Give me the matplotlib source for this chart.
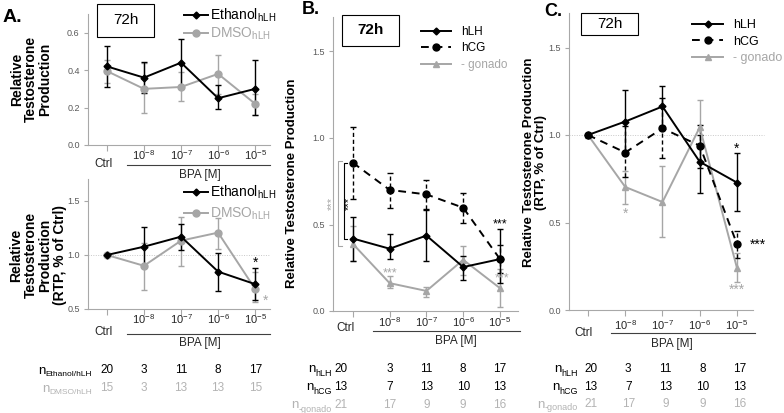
import matplotlib
matplotlib.use('Agg')
import matplotlib.pyplot as plt
from matplotlib.patches import Rectangle
from matplotlib.lines import Line2D
from matplotlib.transforms import blended_transform_factory
import numpy as np

plt.rcParams['font.family'] = ['Liberation Sans', 'DejaVu Sans']
plt.rcParams['mathtext.fontset'] = 'custom'
plt.rcParams['mathtext.rm'] = 'Liberation Sans'
plt.rcParams['mathtext.it'] = 'Liberation Sans:italic'
plt.rcParams['mathtext.bf'] = 'Liberation Sans:bold'

BLACK = '#000000'
GRAY = '#a6a6a6'
AXGRAY = '#a8a8a8'
LABGRAY = '#595959'
LGRAY = '#b3b3b3'

# ---- data ----
x = np.arange(5)
conc_labels = ['10$^{-8}$', '10$^{-7}$', '10$^{-6}$', '10$^{-5}$']

# A, top: raw RTP
eth_raw = [0.42, 0.36, 0.44, 0.25, 0.30]
eth_raw_lo = [0.31, 0.28, 0.31, 0.19, 0.16]
eth_raw_hi = [0.53, 0.445, 0.565, 0.32, 0.455]
dmso_raw = [0.395, 0.30, 0.31, 0.38, 0.22]
dmso_raw_lo = [0.33, 0.17, 0.235, 0.275, 0.16]
dmso_raw_hi = [0.455, 0.44, 0.39, 0.48, 0.27]

# A, bottom: % of ctrl
eth_rel = [1.0, 1.077, 1.17, 0.846, 0.73]
eth_rel_lo = [1.0, 0.90, 1.046, 0.67, 0.58]
eth_rel_hi = [1.0, 1.256, 1.284, 1.015, 0.88]
dmso_rel = [1.0, 0.90, 1.133, 1.207, 0.685]
dmso_rel_lo = [1.0, 0.68, 0.90, 1.06, 0.568]
dmso_rel_hi = [1.0, 1.108, 1.355, 1.34, 0.845]

# B: raw
hlh_raw = [0.419, 0.36, 0.436, 0.254, 0.30]
hlh_raw_lo = [0.29, 0.30, 0.29, 0.18, 0.16]
hlh_raw_hi = [0.545, 0.444, 0.583, 0.32, 0.475]
hcg_raw = [0.857, 0.70, 0.674, 0.597, 0.30]
hcg_raw_lo = [0.645, 0.597, 0.59, 0.51, 0.22]
hcg_raw_hi = [1.065, 0.80, 0.758, 0.684, 0.38]
gon_raw = [0.388, 0.161, 0.116, 0.296, 0.132]
gon_raw_lo = [0.288, 0.132, 0.083, 0.209, 0.025]
gon_raw_hi = [0.49, 0.20, 0.141, 0.378, 0.242]

# C: % of ctrl
hlh_rel = [1.0, 1.077, 1.163, 0.847, 0.728]
hlh_rel_lo = [1.0, 0.90, 1.05, 0.67, 0.563]
hlh_rel_hi = [1.0, 1.257, 1.28, 1.0, 0.895]
hcg_rel = [1.0, 0.90, 1.038, 0.939, 0.377]
hcg_rel_lo = [1.0, 0.76, 0.866, 0.81, 0.30]
hcg_rel_hi = [1.0, 1.05, 1.213, 1.06, 0.454]
gon_rel = [1.0, 0.703, 0.617, 1.044, 0.24]
gon_rel_lo = [1.0, 0.607, 0.42, 0.85, 0.161]
gon_rel_hi = [1.0, 0.793, 0.824, 1.2, 0.326]

n_eth = [20, 3, 11, 8, 17]
n_dmso = [15, 3, 13, 13, 15]
n_hlh = [20, 3, 11, 8, 17]
n_hcg = [13, 7, 13, 10, 13]
n_gon = [21, 17, 9, 9, 16]

W, H = 784, 413
fig = plt.figure(figsize=(W / 100, H / 100), dpi=100)
renderer = fig.canvas.get_renderer()


def fy(ypx):
    return 1 - ypx / H


def fx(xpx):
    return xpx / W


def px_axes(l, t, r, b):
    return fig.add_axes([l / W, 1 - b / H, (r - l) / W, (b - t) / H])


def style(ax, xlim, ylim, yticks):
    ax.set_xlim(*xlim)
    ax.set_ylim(*ylim)
    ax.patch.set_alpha(0)
    for s in ['top', 'right']:
        ax.spines[s].set_visible(False)
    for s in ['left', 'bottom']:
        ax.spines[s].set_color(AXGRAY)
        ax.spines[s].set_linewidth(0.8)
    ax.set_yticks(yticks)
    ax.set_yticklabels([f'{v:.1f}' for v in yticks])
    ax.tick_params(axis='y', colors=AXGRAY, labelcolor=LABGRAY, labelsize=6.5,
                   length=3, width=0.8, pad=3)
    ax.set_xticks(x)
    ax.set_xticklabels([])
    ax.tick_params(axis='x', colors=AXGRAY, length=4, width=0.8)


def series(ax, m, lo, hi, color, marker, ms, ls='-'):
    m = np.array(m)
    yerr = [m - np.array(lo), np.array(hi) - m]
    c = ax.errorbar(x, m, yerr=yerr, color=color, marker=marker, ms=ms, lw=1.4,
                    ls=ls, elinewidth=1.0, capsize=2.2, capthick=1.0, clip_on=False)
    if ls != '-':
        c[2][0].set_linestyle((0, (3, 2)))
        c[0].set_dashes((4, 3))
    return c


def xlabels(ax, y_exp, y_ctrl, y_line, y_bpa, ctrl_x, line_x, bpa_x, xmax):
    tr = blended_transform_factory(ax.transData, fig.transFigure)
    for xi, lab in zip(x[1:], conc_labels):
        ax.text(xi, fy(y_exp), lab, transform=tr, ha='center', va='center',
                fontsize=8, color='#262626', clip_on=False)
    ax.text(ctrl_x, fy(y_ctrl), 'Ctrl', transform=tr, ha='center', va='center',
            fontsize=8.5, color='#262626', clip_on=False)
    ax.add_line(Line2D([line_x, xmax], [fy(y_line)] * 2, transform=tr, color='#404040',
                       lw=0.8, clip_on=False))
    ax.text(bpa_x, fy(y_bpa), 'BPA [M]', transform=tr, ha='center', va='center',
            fontsize=8.5, color='#262626', clip_on=False)


def ntable(ax, rows, label_right, xs, subsize):
    tr = blended_transform_factory(ax.transData, fig.transFigure)
    for ypx, sub, vals, col in rows:
        st = fig.text(fx(label_right), fy(ypx + 6.5), sub, ha='right', va='baseline',
                      fontsize=subsize, color=col)
        bb = st.get_window_extent(renderer)
        fig.text(bb.x0 / W, fy(ypx + 3.5), 'n', ha='right', va='baseline',
                 fontsize=9.5, color=col)
        for xi, v in zip(xs, vals):
            ax.text(xi, fy(ypx), str(v), transform=tr, ha='center', va='center',
                    fontsize=8.5, color=col, clip_on=False)


def box(l, t, r, b, weight):
    fig.patches.append(Rectangle((fx(l), fy(b)), fx(r) - fx(l), fy(t) - fy(b),
                                 transform=fig.transFigure, facecolor='white',
                                 edgecolor=BLACK, lw=0.8, zorder=5))
    fig.text(fx((l + r) / 2), fy((t + b) / 2), '72h', ha='center', va='center',
             fontsize=11, fontweight=weight, zorder=6)


def three_handles():
    return [Line2D([], [], color=BLACK, marker='D', ms=3.5, lw=1.4),
            Line2D([], [], color=BLACK, marker='o', ms=5, lw=1.4, dashes=(4, 3)),
            Line2D([], [], color=GRAY, marker='^', ms=5, lw=1.4)]


def two_handles():
    return [Line2D([], [], color=BLACK, marker='D', ms=3.5, lw=1.4),
            Line2D([], [], color=GRAY, marker='o', ms=5, lw=1.4)]


# ---- Panel A top ----
axA1 = px_axes(88, 14, 270, 145)
style(axA1, (-0.51, 4.4), (0, 0.7), [0.0, 0.2, 0.4, 0.6])
series(axA1, dmso_raw, dmso_raw_lo, dmso_raw_hi, GRAY, 'o', 5)
series(axA1, eth_raw, eth_raw_lo, eth_raw_hi, BLACK, 'D', 3.5)
xlabels(axA1, 155.5, 164, 165, 174.5, -0.08, 0.54, 2.5, 4.4)
axA1.legend(two_handles(), ['Ethanol$_{\\mathrm{hLH}}$', 'DMSO$_{\\mathrm{hLH}}$'],
            loc='upper left', bbox_to_anchor=(fx(184), fy(7)), bbox_transform=fig.transFigure,
            frameon=False, fontsize=10, handlelength=1.7, handletextpad=0.2, labelspacing=0.1,
            borderpad=0, borderaxespad=0, labelcolor=[BLACK, GRAY])

# ---- Panel A bottom ----
axA2 = px_axes(88, 179.4, 270, 309)
style(axA2, (-0.51, 4.4), (0.5, 1.7), [0.5, 1.0, 1.5])
axA2.axhline(1.0, color='#c8c8c8', lw=0.7, ls=(0, (1, 1.5)), zorder=0)
series(axA2, dmso_rel, dmso_rel_lo, dmso_rel_hi, GRAY, 'o', 5)
series(axA2, eth_rel, eth_rel_lo, eth_rel_hi, BLACK, 'D', 3.5)
axA2.text(4, 0.93, '*', ha='center', va='center', fontsize=10, color=BLACK, clip_on=False)
axA2.text(4.28, 0.58, '*', ha='center', va='center', fontsize=10, color=GRAY, clip_on=False)
xlabels(axA2, 319, 332, 334, 343, -0.08, 0.54, 2.5, 4.4)
axA2.legend(two_handles(), ['Ethanol$_{\\mathrm{hLH}}$', 'DMSO$_{\\mathrm{hLH}}$'],
            loc='upper left', bbox_to_anchor=(fx(184), fy(184)), bbox_transform=fig.transFigure,
            frameon=False, fontsize=10, handlelength=1.7, handletextpad=0.2, labelspacing=0.3,
            borderpad=0, borderaxespad=0, labelcolor=[BLACK, GRAY])

# ---- Panel B ----
axB = px_axes(333, 16.9, 518, 311)
style(axB, (-0.54, 4.49), (0, 1.7), [0.0, 0.5, 1.0, 1.5])
series(axB, gon_raw, gon_raw_lo, gon_raw_hi, GRAY, '^', 5)
series(axB, hcg_raw, hcg_raw_lo, hcg_raw_hi, BLACK, 'o', 5, ls='--')
series(axB, hlh_raw, hlh_raw_lo, hlh_raw_hi, BLACK, 'D', 3.5)
axB.plot([-0.16, -0.24, -0.24, -0.16], [hcg_raw[0], hcg_raw[0], hlh_raw[0], hlh_raw[0]],
         color=BLACK, lw=0.8, clip_on=False)
axB.plot([-0.30, -0.40, -0.40, -0.30], [0.868, 0.868, 0.376, 0.376],
         color=GRAY, lw=0.8, clip_on=False)
axB.text(-0.10, 0.62, '***', rotation=90, ha='center', va='center', fontsize=8, color=BLACK, clip_on=False)
axB.text(-0.57, 0.62, '***', rotation=90, ha='center', va='center', fontsize=8, color=GRAY, clip_on=False)
axB.text(1, 0.215, '***', ha='center', va='center', fontsize=9, color=GRAY, clip_on=False)
axB.text(4.05, 0.19, '***', ha='center', va='center', fontsize=9, color=GRAY, clip_on=False)
axB.text(4, 0.50, '***', ha='center', va='center', fontsize=9, color=BLACK, clip_on=False)
xlabels(axB, 322, 328, 331, 341, -0.19, 0.54, 2.8, 4.54)
axB.legend(three_handles(), ['hLH', 'hCG', '- gonado'],
           loc='upper left', bbox_to_anchor=(fx(421), fy(26)), bbox_transform=fig.transFigure,
           frameon=False, fontsize=8.5, handlelength=2.5, handletextpad=0.9, labelspacing=0.38,
           borderpad=0, borderaxespad=0, labelcolor=[BLACK, BLACK, GRAY])

# ---- Panel C ----
axC = px_axes(569, 12.5, 753, 310)
style(axC, (-0.51, 4.43), (0, 1.7), [0.0, 0.5, 1.0, 1.5])
axC.axhline(1.0, color='#c8c8c8', lw=0.7, ls=(0, (1, 1.5)), zorder=0, xmax=1.06, clip_on=False)
series(axC, gon_rel, gon_rel_lo, gon_rel_hi, GRAY, '^', 5)
series(axC, hcg_rel, hcg_rel_lo, hcg_rel_hi, BLACK, 'o', 5, ls='--')
series(axC, hlh_rel, hlh_rel_lo, hlh_rel_hi, BLACK, 'D', 3.5)
axC.text(4, 0.92, '*', ha='center', va='center', fontsize=10, color=BLACK, clip_on=False)
axC.text(4.57, 0.37, '***', ha='center', va='center', fontsize=10, color=BLACK, clip_on=False)
axC.text(1, 0.55, '*', ha='center', va='center', fontsize=10, color=GRAY, clip_on=False)
axC.text(4, 0.115, '***', ha='center', va='center', fontsize=10, color=GRAY, clip_on=False)
xlabels(axC, 325, 333, 333, 344, -0.13, 0.62, 2.25, 4.48)
axC.legend(three_handles(), ['hLH', 'hCG', '- gonado'],
           loc='upper left', bbox_to_anchor=(fx(692), fy(19)), bbox_transform=fig.transFigure,
           frameon=False, fontsize=9, handlelength=2.5, handletextpad=0.8, labelspacing=0.38,
           borderpad=0, borderaxespad=0, labelcolor=[BLACK, BLACK, GRAY])

# ---- n tables ----
ntable(axA2, [(370, 'Ethanol/hLH', n_eth, BLACK),
              (388, 'DMSO/hLH', n_dmso, LGRAY)], 92, x, 6)
ntable(axB, [(369, 'hLH', n_hlh, BLACK),
             (387, 'hCG', n_hcg, BLACK),
             (405, '-gonado', n_gon, LGRAY)], 332, [-0.33, 1, 2, 3, 4], 6.5)
ntable(axC, [(369, 'hLH', n_hlh, BLACK),
             (387, 'hCG', n_hcg, BLACK),
             (404, '-gonado', n_gon, LGRAY)], 578, x + 0.08, 6.5)

# ---- y labels, boxes, panel letters ----
fig.text(fx(31), fy(79), 'Relative\nTestosterone\nProduction', rotation=90, ha='center',
         va='center', fontsize=10, fontweight='bold', linespacing=1.0)
fig.text(fx(38), fy(255), 'Relative\nTestosterone\nProduction\n(RTP, % of Ctrl)', rotation=90,
         ha='center', va='center', fontsize=10, fontweight='bold', linespacing=1.05)
fig.text(fx(292), fy(183), 'Relative Testosterone Production', rotation=90, ha='center',
         va='center', fontsize=9.5, fontweight='bold')
fig.text(fx(535), fy(162), 'Relative Testosterone Production\n(RTP, % of Ctrl)', rotation=90,
         ha='center', va='center', fontsize=9.5, fontweight='bold', linespacing=1.05)

box(97, 4, 154, 37, 'normal')
box(342, 15, 399, 46, 'bold')
box(581, 13, 638, 35, 'normal')

fig.text(fx(3), fy(17), 'A.', ha='left', va='center', fontsize=14, fontweight='bold')
fig.text(fx(302), fy(10), 'B.', ha='left', va='center', fontsize=13, fontweight='bold')
fig.text(fx(544), fy(11), 'C.', ha='left', va='center', fontsize=13, fontweight='bold')

fig.savefig('out.png', dpi=100)
